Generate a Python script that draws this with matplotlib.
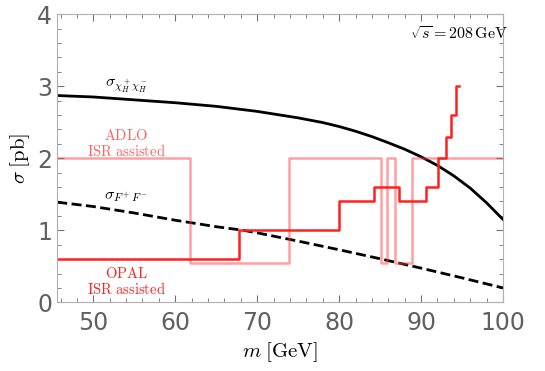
import matplotlib.pyplot as plt
from matplotlib.ticker import MultipleLocator

plt.rcParams['mathtext.fontset'] = 'cm'

# chargino-like pair cross section (solid black)
m_chi = [45.6, 50, 55, 60, 65, 70, 75, 78, 80, 82, 84, 86, 88, 90, 92, 94, 96, 98, 100]
sig_chi = [2.87, 2.85, 2.81, 2.77, 2.72, 2.65, 2.56, 2.495, 2.44, 2.375, 2.30, 2.215, 2.125, 2.02, 1.90, 1.755, 1.585, 1.38, 1.15]

# F+F- cross section (dashed black)
m_ff = [45.6, 50, 55, 60, 65, 68.3, 70, 75, 80, 85, 90, 95, 100]
sig_ff = [1.39, 1.33, 1.24, 1.14, 1.05, 1.0, 0.965, 0.85, 0.73, 0.605, 0.475, 0.34, 0.20]

# OPAL ISR assisted limit (step)
m_opal = [45.6, 67.8, 80.0, 84.2, 87.3, 90.6, 92.1, 93.1, 93.7, 94.2, 94.6]
sig_opal = [0.6, 1.0, 1.4, 1.6, 1.4, 1.6, 2.0, 2.3, 2.6, 3.0, 3.0]

# ADLO ISR assisted limit (step)
m_adlo = [45.6, 61.8, 73.9, 85.1, 85.9, 86.8, 88.9, 100]
sig_adlo = [2.0, 0.55, 2.0, 0.55, 2.0, 0.55, 2.0, 2.0]

fig = plt.figure(figsize=(5.45, 3.71), dpi=100)
ax = fig.add_axes([0.105, 0.185, 0.818, 0.777])

ax.plot(m_chi, sig_chi, color='black', lw=2)
ax.plot(m_ff, sig_ff, color='black', lw=2, ls=(0, (3.6, 1.6)))
ax.step(m_adlo, sig_adlo, where='post', color='#ff4040', alpha=0.5, lw=1.8)
ax.step(m_opal, sig_opal, where='post', color='#ff2020', lw=1.8)

red = '#ff2020'
pink = '#ff6060'
ax.text(54.0, 2.10, r'$\mathrm{ISR\ assisted}$', color=pink, ha='center', va='center', fontsize=10.5)
ax.text(54.0, 2.31, r'$\mathrm{ADLO}$', color=pink, ha='center', va='center', fontsize=10.5)
ax.text(54.0, 0.40, r'$\mathrm{OPAL}$', color=red, ha='center', va='center', fontsize=10.5)
ax.text(54.0, 0.19, r'$\mathrm{ISR\ assisted}$', color=red, ha='center', va='center', fontsize=10.5)
ax.text(54.0, 3.0, r'$\sigma_{\chi_H^+\chi_H^-}$', ha='center', va='center', fontsize=11.5)
ax.text(54.0, 1.47, r'$\sigma_{F^+F^-}$', ha='center', va='center', fontsize=11.5)
ax.text(94.6, 3.72, r'$\sqrt{s}=208\,\mathrm{GeV}$', ha='center', va='center', fontsize=11.5)

ax.set_xlim(45.6, 100)
ax.set_ylim(0, 4)
ax.xaxis.set_major_locator(MultipleLocator(10))
ax.xaxis.set_minor_locator(MultipleLocator(2))
ax.yaxis.set_major_locator(MultipleLocator(1))
ax.yaxis.set_minor_locator(MultipleLocator(0.2))

for s in ax.spines.values():
    s.set_color('#b0b0b0')
ax.tick_params(which='both', direction='in', top=True, right=True, color='#707070', labelcolor='#606060',
               labelsize=17)
ax.tick_params(which='major', length=5, width=0.8)
ax.tick_params(which='minor', length=3, width=0.6)
ax.tick_params(axis='x', pad=6)

ax.set_xlabel(r'$m\;[\mathrm{GeV}]$', fontsize=15)
ax.set_ylabel(r'$\sigma\;[\mathrm{pb}]$', fontsize=15)

fig.savefig('out.png', dpi=100)
